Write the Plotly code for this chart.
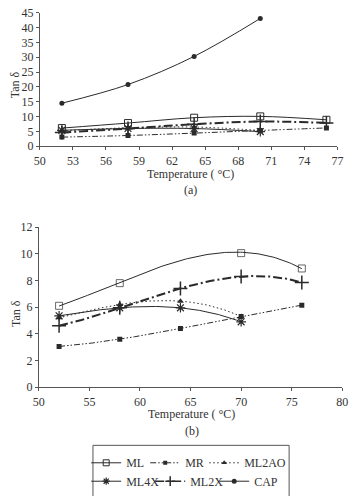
import numpy as np
import plotly.graph_objects as go

# ---------------- data ----------------
temps5 = [52, 58, 64, 70, 76]
temps4 = [52, 58, 64, 70]

ml = [6.1, 7.8, 9.6, 10.05, 8.9]
mr = [3.05, 3.6, 4.4, 5.3, 6.15]
ml2ao = [5.2, 6.2, 6.45, 5.3]
ml4x = [5.35, 5.95, 5.95, 4.9]
ml2x = [4.6, 5.95, 7.4, 8.3, 7.85]
cap = [14.5, 20.8, 30.3, 43.1]

top_xticks = [50, 53, 56, 59, 62, 65, 68, 71, 74, 77]
top_yticks = [0, 5, 10, 15, 20, 25, 30, 35, 40, 45]
bot_xticks = [50, 55, 60, 65, 70, 75, 80]
bot_yticks = [0, 2, 4, 6, 8, 10, 12]

# ---------------- styles ----------------
W, H = 356, 496
FONT = "Liberation Serif"
INK = "#2a2a2a"
AX = "#555555"


def px(x):
    return x / W


def py(y):
    return 1 - y / H


series = [
    dict(name="ML", x=temps5, y=ml, sym="square-open", size=7, lw=1, dash="solid", mlw=1, legend="legend",
         bot_sizes=[7, 7, 0, 7, 7], lsize=6, lwidth=14),
    dict(name="MR", x=temps5, y=mr, sym="square", size=5, lw=1, dash="6px,2px,1.5px,2px,1.5px,2px", mlw=0,
         legend="legend", bot_sizes=None, lsize=4, lwidth=14),
    dict(name="ML2AO", x=temps4, y=ml2ao, sym="triangle-up", size=6, lw=1, dash="1.5px,2.5px", mlw=0,
         legend="legend", bot_sizes=None, lsize=5, lwidth=45),
    dict(name="ML4X", x=temps4, y=ml4x, sym="asterisk-open", size=8, lw=1, dash="solid", mlw=1.2,
         legend="legend2", bot_sizes=None, lsize=6, lwidth=19),
    dict(name="ML2X", x=temps5, y=ml2x, sym="cross-thin-open", size=10, lw=2, dash="9px,3px,2px,3px", mlw=1.5,
         legend="legend2", bot_sizes=None, lsize=7, lwidth=19),
    dict(name="CAP", x=temps4, y=cap, sym="circle", size=5, lw=1, dash="solid", mlw=0, legend="legend2",
         bot_sizes=None, top_only=True, lsize=5, lwidth=35),
]

fig = go.Figure()

for s in series:
    # top chart: smooth line through points
    fig.add_trace(go.Scatter(
        x=s["x"], y=s["y"], mode="lines+markers", xaxis="x", yaxis="y",
        line=dict(color=INK, width=s["lw"], dash=s["dash"], shape="spline", smoothing=1.0),
        marker=dict(symbol=s["sym"], size=s["size"], color=INK, line=dict(color=INK, width=s["mlw"])),
        showlegend=False, hoverinfo="skip"))

    if s.get("top_only"):
        continue
    # bottom chart: polynomial trendline + markers
    coef = np.polyfit(s["x"], s["y"], 3)
    xs = np.linspace(min(s["x"]), max(s["x"]), 120)
    fig.add_trace(go.Scatter(
        x=xs, y=np.polyval(coef, xs), mode="lines", xaxis="x2", yaxis="y2",
        line=dict(color=INK, width=s["lw"], dash=s["dash"]),
        showlegend=False, hoverinfo="skip"))
    fig.add_trace(go.Scatter(
        x=s["x"], y=s["y"], mode="markers", xaxis="x2", yaxis="y2",
        marker=dict(symbol=s["sym"], size=s["bot_sizes"] if s["bot_sizes"] else s["size"], color=INK,
                    line=dict(color=INK, width=s["mlw"])),
        showlegend=False, hoverinfo="skip"))

# legend entries
for s in series:
    fig.add_trace(go.Scatter(
        x=[None], y=[None], mode="lines+markers", name=s["name"], xaxis="x2", yaxis="y2",
        line=dict(color=INK, width=min(s["lw"], 1.5), dash=s["dash"]),
        marker=dict(symbol=s["sym"], size=s["lsize"], color=INK, line=dict(color=INK, width=s["mlw"])),
        legend=s["legend"], legendwidth=s["lwidth"], showlegend=True))

axis_common = dict(showline=True, linecolor=AX, linewidth=1, ticks="outside", ticklen=3, tickcolor=AX,
                   showgrid=False, zeroline=False, tickfont=dict(family=FONT, size=12, color="#333"))

legend_common = dict(orientation="h", xanchor="left", yanchor="middle", bgcolor="rgba(0,0,0,0)",
                     borderwidth=0, entrywidthmode="pixels",
                     font=dict(family=FONT, size=12, color="#333"), itemclick=False)

fig.update_layout(
    width=W, height=H, margin=dict(l=0, r=0, t=0, b=0),
    paper_bgcolor="white", plot_bgcolor="white",
    xaxis=dict(domain=[px(35), px(343)], range=[50, 77], tickvals=top_xticks, anchor="y", **axis_common),
    yaxis=dict(domain=[py(143.5), py(6)], range=[0, 45], tickvals=top_yticks, anchor="x", **axis_common),
    xaxis2=dict(domain=[px(34), px(348)], range=[50, 80], tickvals=bot_xticks, anchor="y2", **axis_common),
    yaxis2=dict(domain=[py(392), py(227)], range=[0, 12], tickvals=bot_yticks, anchor="x2", **axis_common),
    legend=dict(x=px(83), y=py(470), **legend_common),
    legend2=dict(x=px(83), y=py(489), **legend_common),
    showlegend=True,
)

ann_font = dict(family=FONT, size=12, color="#333")
annotations = [
    dict(text="Temperature ( °C)", x=px(191), y=py(172)),
    dict(text="(a)", x=px(191), y=py(189)),
    dict(text="Temperature ( °C)", x=px(192), y=py(420)),
    dict(text="(b)", x=px(192), y=py(437)),
    dict(text="Tan δ", x=px(9), y=py(80), textangle=-90),
    dict(text="Tan δ", x=px(11), y=py(316), textangle=-90),
]
for a in annotations:
    fig.add_annotation(xref="paper", yref="paper", showarrow=False, xanchor="center", yanchor="middle",
                       font=ann_font, **a)

fig.add_shape(type="rect", xref="paper", yref="paper", x0=px(90), x1=px(293), y0=py(520), y1=py(452),
              line=dict(color=AX, width=1), fillcolor="rgba(0,0,0,0)")

fig.write_html("out.html")
